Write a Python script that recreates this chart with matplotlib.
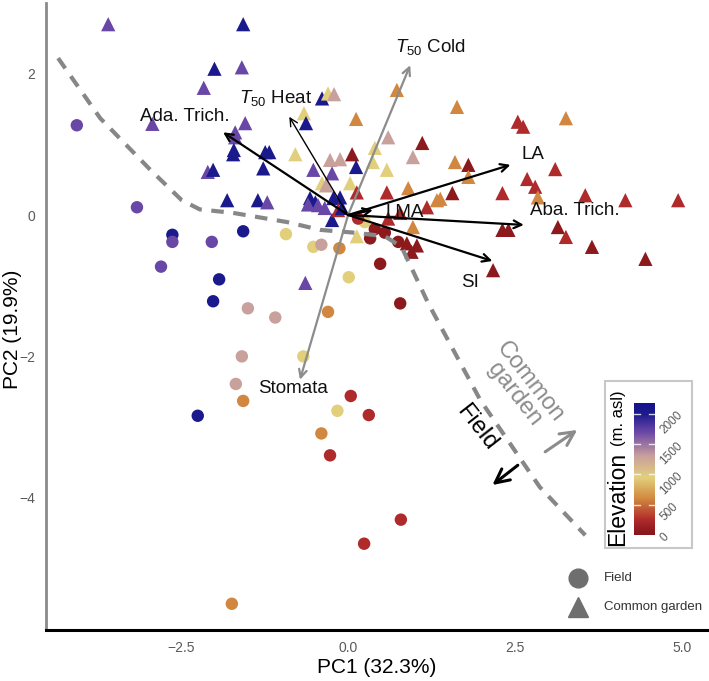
import matplotlib
matplotlib.use('Agg')
import matplotlib.pyplot as plt
import numpy as np
from matplotlib.colors import LinearSegmentedColormap, Normalize
from matplotlib.lines import Line2D
from matplotlib.patches import Rectangle
import matplotlib.cm as cm

plt.rcParams['font.family'] = ['Liberation Sans', 'DejaVu Sans']
plt.rcParams['mathtext.fontset'] = 'custom'
plt.rcParams['mathtext.rm'] = 'Liberation Sans'
plt.rcParams['mathtext.it'] = 'Liberation Sans:italic'

# field samples (circles): PC1, PC2, elevation (m)
field_x = [-4.06, -3.16, -2.63, -2.63, -2.04, -1.57, -2.80, -1.93, -2.02, -1.50,
           -1.09, -0.93, -0.52, -0.40, -0.13, 0.01, -0.30, -1.59, -1.68, -1.57,
           -0.67, 0.04, -0.16, 0.31, 0.48, 0.78, -2.25, -0.40, -0.27, -1.74,
           0.79, 0.24, 0.33, 0.75, 0.25, 0.15, 0.40, 0.55]
field_y = [1.27, 0.11, -0.28, -0.38, -0.38, -0.23, -0.73, -0.91, -1.22, -1.32,
           -1.45, -0.27, -0.45, -0.42, -0.47, -0.88, -1.37, -2.00, -2.39, -2.63,
           -2.00, -2.56, -2.77, -2.83, -0.69, -1.25, -2.84, -3.09, -3.40, -5.50,
           -4.31, -4.65, -0.33, -0.38, -0.10, -0.05, -0.20, -0.25]
field_elev = [1700, 1700, 2000, 1700, 1700, 2000, 1700, 2000, 2000, 1300,
              1300, 950, 950, 1300, 600, 950, 600, 1300, 1300, 600,
              950, 250, 950, 250, 60, 60, 2000, 600, 250, 600,
              250, 250, 60, 60, 950, 250, 60, 60]

# common garden samples (triangles)
garden_x = [-3.59, -1.57, -2.00, -1.59, -2.16, -0.39, -0.30, -0.21, -2.93, -1.54,
            -1.69, -1.69, -0.66, -0.63, 0.12, -1.71, -1.72, -1.24, -1.18, -0.79,
            -1.27, -2.10, -2.02, -1.81, -1.35, -1.21, -0.64, -0.27, -0.12, 0.06,
            0.12, -0.52, -0.39, -0.24, -0.33, 0.03, -0.57, -0.49, -0.45, -0.22,
            -0.12, -0.24, -0.15, -0.35, -0.60, 0.60, 1.11, 0.97, 0.40, 0.37,
            0.58, 0.13, 0.58, 0.90, 1.18, 1.33, 0.97, 0.13, 0.88, 1.03,
            0.95, 0.73, 1.63, 2.54, 2.62, 3.26, 1.60, 1.80, 1.80, 3.10,
            2.68, 2.80, 2.84, 2.31, 3.55, 4.15, 4.94, 1.56, 1.38, 0.78,
            2.31, 2.40, 3.14, 3.26, 3.65, 4.45, 2.17, 0.60, -0.09]
garden_y = [2.70, 2.70, 2.07, 2.09, 1.80, 1.65, 1.72, 1.71, 1.29, 1.30,
            1.17, 1.10, 1.44, 1.30, 1.36, 0.92, 0.86, 0.89, 0.89, 0.86,
            0.66, 0.61, 0.64, 0.21, 0.21, 0.18, -0.96, 0.78, 0.79, 0.86,
            0.68, 0.64, 0.45, 0.59, 0.42, 0.45, 0.24, 0.18, 0.14, 0.24,
            0.25, -0.07, 0.07, 0.10, 0.15, 1.10, 1.02, 0.82, 0.95, 0.75,
            0.64, 0.32, 0.32, 0.38, 0.11, 0.21, -0.17, -0.30, -0.40, -0.43,
            -0.52, 1.77, 1.53, 1.32, 1.25, 1.37, 0.75, 0.71, 0.54, 0.65,
            0.51, 0.40, 0.25, 0.31, 0.28, 0.21, 0.21, 0.31, 0.23, 0.03,
            -0.21, -0.21, -0.17, -0.31, -0.45, -0.62, -0.78, -0.05, 0.10]
garden_elev = [1700, 2000, 2000, 1700, 1700, 2000, 950, 1300, 1700, 1700,
               1700, 1700, 950, 2000, 600, 2000, 2000, 2000, 2000, 950,
               2000, 1700, 2000, 2000, 2000, 1700, 1700, 1300, 1300, 60,
               2000, 1700, 950, 1700, 1300, 950, 2000, 2000, 1700, 2000,
               2000, 2000, 250, 1700, 1700, 1300, 60, 1300, 950, 950,
               950, 250, 250, 600, 250, 600, 600, 950, 60, 60,
               60, 600, 600, 250, 250, 600, 600, 60, 600, 250,
               250, 250, 600, 250, 250, 250, 250, 60, 600, 250,
               60, 60, 60, 250, 60, 60, 60, 250, 2000]

# loading vectors
load_names = ['Ada. Trich.', '$T_{50}$ Heat', '$T_{50}$ Cold', 'Stomata', 'LA', 'Aba. Trich.', 'SI', 'LMA']
load_x = [-1.87, -0.88, 0.93, -0.72, 2.43, 2.63, 2.16, 0.37]
load_y = [1.17, 1.39, 2.12, -2.33, 0.71, -0.14, -0.65, 0.07]
label_x = [-2.44, -1.09, 1.23, -0.82, 2.77, 3.40, 1.83, 0.85]
label_y = [1.40, 1.65, 2.38, -2.46, 0.85, 0.07, -0.96, 0.04]
load_grey = [False, False, True, True, False, False, False, False]

# boundary between field and common garden
bound_x = [-4.34, -3.71, -2.96, -2.49, -2.22, -1.72, -0.91, -0.42, 0.10, 0.55, 0.80, 0.95, 1.20, 1.98, 2.87, 3.55]
bound_y = [2.22, 1.37, 0.64, 0.21, 0.08, 0.03, -0.10, -0.21, -0.25, -0.30, -0.45, -0.75, -1.25, -2.62, -3.85, -4.53]

vmax = 2170
cmap = LinearSegmentedColormap.from_list('elev', [
    (0.0, '#86161a'), (60 / vmax, '#8c1a1d'), (250 / vmax, '#b02a2b'),
    (600 / vmax, '#d1883f'), (950 / vmax, '#e2cf7c'), (1300 / vmax, '#c8a09c'),
    (1700 / vmax, '#6a47a6'), (2000 / vmax, '#1b1a8c'), (1.0, '#16128a')])
norm = Normalize(0, vmax)

fig = plt.figure(figsize=(7.09, 6.81), dpi=100)
ax = fig.add_axes([0.065, 0.075, 0.932, 0.9206])

ax.scatter(field_x, field_y, c=field_elev, cmap=cmap, norm=norm, marker='o', s=80, linewidths=0, zorder=2)
ax.scatter(garden_x, garden_y, c=garden_elev, cmap=cmap, norm=norm, marker='^', s=105, linewidths=0, zorder=2)

ax.plot(bound_x, bound_y, color='#878787', lw=3, dashes=(3, 2.3), zorder=3)

for i in range(len(load_names)):
    col = '#8c8c8c' if load_grey[i] else 'black'
    lw = 1.0 if i == 1 else 1.6
    ax.annotate('', xy=(load_x[i], load_y[i]), xytext=(0, 0),
                arrowprops=dict(arrowstyle='->', color=col, lw=lw, shrinkA=0, shrinkB=0,
                                mutation_scale=14), zorder=4)
    ax.text(label_x[i], label_y[i], load_names[i], fontsize=13.5, ha='center', va='center',
            color='#111111', zorder=5)

# field / common garden direction hints
ax.text(2.60, -2.45, 'Common\ngarden', fontsize=17, color='#8c8c8c', rotation=-52,
        ha='center', va='center', linespacing=0.85, rotation_mode='anchor')
ax.text(1.93, -3.01, 'Field', fontsize=17, color='black', rotation=-52,
        ha='center', va='center', rotation_mode='anchor')
ax.annotate('', xy=(3.43, -3.04), xytext=(2.95, -3.35),
            arrowprops=dict(arrowstyle='->', color='#8c8c8c', lw=2.2, mutation_scale=25, shrinkA=0, shrinkB=0))
ax.annotate('', xy=(2.16, -3.82), xytext=(2.54, -3.54),
            arrowprops=dict(arrowstyle='->', color='black', lw=2.2, mutation_scale=25, shrinkA=0, shrinkB=0))

ax.set_xlim(-4.52, 5.37)
ax.set_ylim(-5.87, 3.0)
ax.set_xticks([-2.5, 0.0, 2.5, 5.0])
ax.set_xticklabels(['\u22122.5', '0.0', '2.5', '5.0'])
ax.set_yticks([-4, -2, 0, 2])
ax.set_yticklabels(['\u22124', '\u22122', '0', '2'])
ax.tick_params(length=0, labelsize=10, labelcolor='#5a5a5a', pad=8)
for s in ['top', 'right']:
    ax.spines[s].set_visible(False)
ax.spines['left'].set_color('#8a8a8a')
ax.spines['left'].set_linewidth(2)
ax.spines['bottom'].set_color('black')
ax.spines['bottom'].set_linewidth(2.2)
ax.set_xlabel('PC1 (32.3%)', fontsize=15, labelpad=2)
ax.set_ylabel('PC2 (19.9%)', fontsize=15)
ax.yaxis.set_label_coords(-0.036, 0.48)

# colour bar legend
fig.add_artist(Rectangle((0.853, 0.195), 0.1227, 0.245, transform=fig.transFigure,
                         facecolor='white', edgecolor='#c8c8c8', lw=1.5, zorder=5))
cax = fig.add_axes([0.894, 0.214, 0.030, 0.194])
cax.set_zorder(6)
cb = fig.colorbar(cm.ScalarMappable(norm=norm, cmap=cmap), cax=cax)
cb.outline.set_visible(False)
cb.set_ticks([0, 500, 1000, 1500, 2000])
cax.tick_params(length=0, labelsize=8.5, labelcolor='#5a5a5a', pad=2)
for lab in cax.get_yticklabels():
    lab.set_rotation(45)
for v in [500, 1000, 1500, 2000]:
    cax.plot([0, 0.3], [v, v], color='white', lw=1, transform=cax.get_yaxis_transform(), alpha=0.8)
    cax.plot([0.7, 1], [v, v], color='white', lw=1, transform=cax.get_yaxis_transform(), alpha=0.8)
fig.text(0.871, 0.198, 'Elevation', fontsize=16.5, rotation=90, ha='center', va='bottom', zorder=7)
fig.text(0.873, 0.345, '(m. asl)', fontsize=12, rotation=90, ha='center', va='bottom', zorder=7)

# shape legend
fig.add_artist(Line2D([0.815], [1 - 578 / 681], marker='o', ms=13.5, color='#6e6e6e', lw=0,
                      transform=fig.transFigure))
fig.add_artist(Line2D([0.815], [1 - 607 / 681], marker='^', ms=15, color='#6e6e6e', lw=0,
                      transform=fig.transFigure))
fig.text(0.852, 1 - 578 / 681, 'Field', fontsize=9.5, color='#333333', va='center')
fig.text(0.852, 1 - 607 / 681, 'Common garden', fontsize=9.5, color='#333333', va='center')

fig.savefig('out.png', dpi=100)
